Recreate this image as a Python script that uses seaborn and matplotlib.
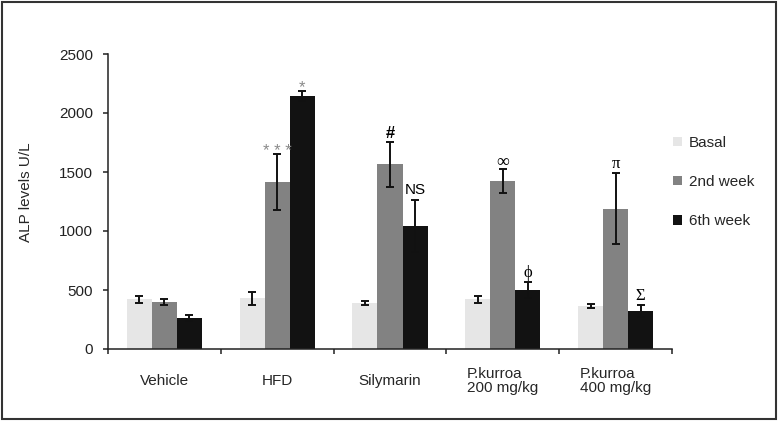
import numpy as np
import pandas as pd
import matplotlib
matplotlib.use("Agg")
import matplotlib.pyplot as plt
from matplotlib.patches import Rectangle
import seaborn as sns

GROUPS = ["Vehicle", "HFD", "Silymarin", "P.kurroa\n200 mg/kg", "P.kurroa\n400 mg/kg"]
PERIODS = ["Basal", "2nd week", "6th week"]
PERIOD_COLOURS = ["#e6e6e6", "#828282", "#121212"]

basal = [420, 430, 390, 420, 365]
basal_err = [28, 55, 18, 28, 15]
week2 = [400, 1415, 1565, 1425, 1190]
week2_err = [25, 240, 190, 100, 300]
week6 = [262, 2145, 1040, 500, 325]
week6_err = [27, 40, 220, 65, 50]

# (period, group, text, colour, family, weight, size, offset px above error cap)
MARKS = [
    (1, 1, "* * *", "#8a8a8a", "sans", "normal", 12, -2),
    (2, 1, "*", "#8a8a8a", "sans", "normal", 12, -1),
    (1, 2, "#", "black", "sans", "bold", 12, 4),
    (2, 2, "NS", "black", "sans", "normal", 11, 6),
    (1, 3, "\u221e", "black", "serif", "normal", 13, 2),
    (2, 3, "\u03d5", "black", "serif", "normal", 12, 5),
    (1, 4, "\u03c0", "black", "serif", "normal", 12, 5),
    (2, 4, "\u03a3", "black", "serif", "normal", 12, 5),
]

sns.set_style("ticks")
plt.rcParams["font.family"] = ["Liberation Sans", "DejaVu Sans"]
plt.rcParams["font.size"] = 11

df = pd.DataFrame({
    "group": GROUPS * 3,
    "period": np.repeat(PERIODS, len(GROUPS)),
    "value": basal + week2 + week6,
})
errs = [basal_err, week2_err, week6_err]
vals = [basal, week2, week6]

fig = plt.figure(figsize=(7.79, 4.21), dpi=100)
ax = fig.add_axes([108 / 779, 72 / 421, 564 / 779, 295 / 421])

sns.barplot(
    data=df, x="group", y="value", hue="period", order=GROUPS, hue_order=PERIODS,
    palette=PERIOD_COLOURS, width=0.665, gap=0, errorbar=None, saturation=1,
    linewidth=0, ax=ax,
)

bar_sets = list(ax.containers)
centres = [[b.get_x() + b.get_width() / 2 for b in cont] for cont in bar_sets]

for pid in range(len(PERIODS)):
    ax.errorbar(centres[pid], vals[pid], yerr=errs[pid], fmt="none", ecolor="#111111",
                elinewidth=1.4, capsize=3, capthick=1.4, zorder=3)

for pid, gid, txt, col, fam, wt, size, off in MARKS:
    family = ["Liberation Serif", "DejaVu Serif"] if fam == "serif" else ["Liberation Sans", "DejaVu Sans"]
    ax.annotate(txt, (centres[pid][gid], vals[pid][gid] + errs[pid][gid]), xytext=(0, off * 0.72),
                textcoords="offset points", ha="center", va="baseline",
                color=col, fontsize=size, family=family, fontweight=wt)

ax.set_xlim(-0.5, len(GROUPS) - 0.5)
ax.set_ylim(0, 2500)
ax.set_yticks(np.arange(0, 2501, 500))
ax.tick_params(axis="y", length=3.6, width=1.1, pad=7, colors="#222222", labelsize=11)
ax.set_xticks(np.arange(-0.5, len(GROUPS), 1.0), minor=True)
ax.tick_params(axis="x", which="minor", length=3.6, width=1.1, direction="out", color="#222222")
ax.tick_params(axis="x", which="major", length=0, pad=23, labelsize=11)
for lab in ax.get_xticklabels():
    lab.set_verticalalignment("center")
    lab.set_multialignment("left")
    lab.set_linespacing(1.0)

ax.set_xlabel("")
ax.set_ylabel("ALP levels U/L", fontsize=11)
ax.yaxis.set_label_coords(-0.133, 0.53)
sns.despine(ax=ax)
for side in ("left", "bottom"):
    ax.spines[side].set_linewidth(1.1)
    ax.spines[side].set_color("#222222")

handles, labels = ax.get_legend_handles_labels()
ax.legend_.remove()
fig.legend(handles, labels, loc="center left", bbox_to_anchor=(673 / 779, 1 - 182 / 421),
           bbox_transform=fig.transFigure, frameon=False, fontsize=11,
           handlelength=0.6, handleheight=0.6, handletextpad=0.45,
           labelspacing=1.65, borderpad=0, borderaxespad=0)

fig.patches.append(Rectangle((2 / 779, 2 / 421), 774 / 779, 417 / 421, transform=fig.transFigure,
                             fill=False, edgecolor="#333333", linewidth=1.5))

fig.savefig("out.png", dpi=100)
